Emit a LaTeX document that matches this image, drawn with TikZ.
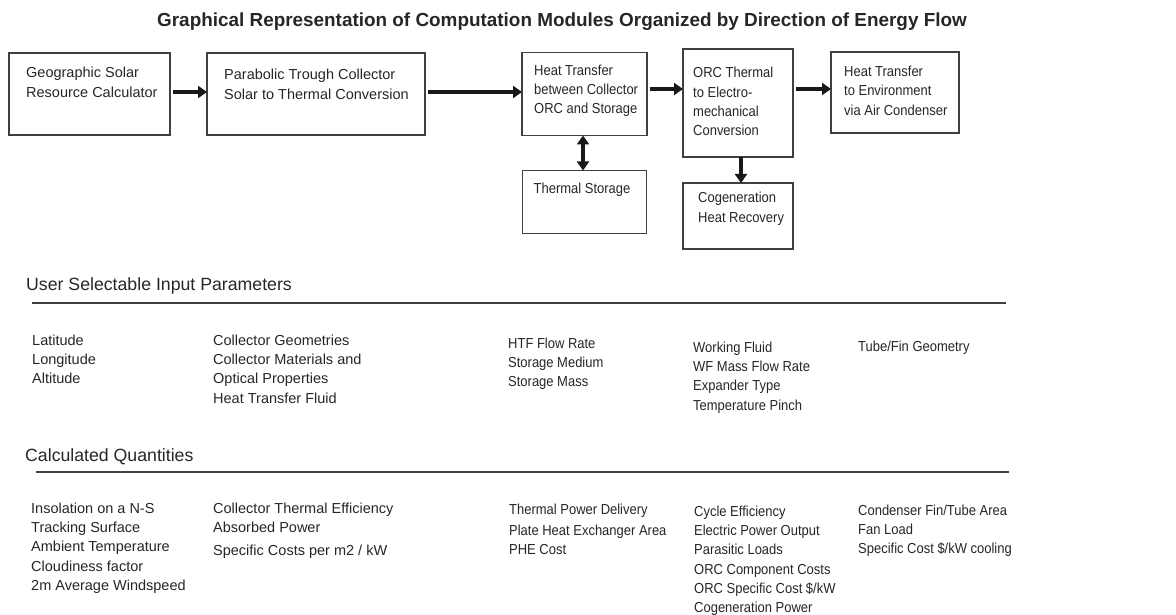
\documentclass[tikz,border=0pt]{standalone}
\usepackage{fontspec}
\setmainfont{Liberation Sans}
\newfontfamily\narrowsans[FakeStretch=0.895]{Liberation Sans}
\usetikzlibrary{positioning,arrows.meta}

\begin{document}
\begin{tikzpicture}[
x=1pt, y=-1pt,
modbox/.style={rectangle, draw=black!75, line width=1.6pt, outer sep=0pt, inner sep=0pt},
boxtext/.style={align=left, inner sep=0pt, text=black!85, font=\fontsize{14.5}{19.3}\selectfont},
narrowtext/.style={boxtext, font=\narrowsans\fontsize{14.5}{19.3}\selectfont},
listtext/.style={boxtext, anchor=north west},
narrowlist/.style={narrowtext, anchor=north west},
heading/.style={anchor=base west, inner sep=0pt, text=black!85, font=\fontsize{17.7}{21}\selectfont},
flow/.style={line width=3.5pt, black!90, shorten <=3pt, -{Triangle[length=9pt,width=12pt]}},
twoway/.style={line width=3.5pt, black!90, {Triangle[length=9pt,width=12pt]}-{Triangle[length=9pt,width=12pt]}},
rule/.style={line width=2pt, black!75},
]
\useasboundingbox (0,0) rectangle (1176,615);

%Title
\node[anchor=base, inner sep=0pt, text=black!85, font=\bfseries\fontsize{18.9}{22}\selectfont] (title) at (562,27)
  {Graphical Representation of Computation Modules Organized by Direction of Energy Flow};

%Modules
\node[modbox, minimum width=161pt, minimum height=82pt]  (geo)   at (89.5,94) {};
\node[modbox, minimum width=218pt, minimum height=82pt]  (ptc)   [right=37pt of geo] {};
\node[modbox, minimum width=125pt, minimum height=83pt]  (htx)   [right=97pt of ptc] {};
\node[modbox, minimum width=124pt, minimum height=63pt]  (tes)   [below=35pt of htx] {};
\node[modbox, minimum width=110pt, minimum height=108pt] (orc)   [right=36pt of htx, yshift=-9pt] {};
\node[modbox, minimum width=110pt, minimum height=66pt]  (cogen) [below=26pt of orc] {};
\node[modbox, minimum width=128pt, minimum height=81pt]  (env)   [right=38pt of orc, yshift=10.5pt] {};

\node[boxtext]    (geo-t)   [below right=14pt and 17pt of geo.north west] {Geographic Solar\\Resource Calculator};
\node[boxtext]    (ptc-t)   [below right=16pt and 17pt of ptc.north west] {Parabolic Trough Collector\\Solar to Thermal Conversion};
\node[narrowtext] (htx-t)   [below right=12pt and 12pt of htx.north west] {Heat Transfer\\between Collector\\ORC and Storage};
\node[narrowtext] (tes-t)   [below right=12pt and 11pt of tes.north west] {Thermal Storage};
\node[narrowtext] (orc-t)   [below right=18pt and 10pt of orc.north west] {ORC Thermal\\to Electro-\\mechanical\\Conversion};
\node[narrowtext] (cogen-t) [below right=9pt and 15pt of cogen.north west] {Cogeneration\\Heat Recovery};
\node[narrowtext] (env-t)   [below right=14pt and 13pt of env.north west] {Heat Transfer\\to Environment\\via Air Condenser};

%Energy flow
\draw[flow] ([yshift=2pt]geo.east) -- ([yshift=2pt]ptc.west);
\draw[flow] ([yshift=2pt]ptc.east) -- ([yshift=2pt]ptc.east -| htx.west);
\draw[flow] ([yshift=5pt]htx.east) -- ([yshift=5pt]htx.east -| orc.west);
\draw[flow] ([yshift=3.5pt]env.west -| orc.east) -- ([yshift=3.5pt]env.west);
\draw[twoway] ([xshift=-1.5pt]htx.south) -- ([xshift=-1.5pt]htx.south |- tes.north);
\draw[flow, shorten <=0pt] ([xshift=3pt]orc.south) -- ([xshift=3pt]orc.south |- cogen.north);

%Inputs
\node[heading] (inhead) at (26,290) {User Selectable Input Parameters};
\draw[rule] (32,303) -- (1006,303);
\node[listtext]   (in-geo)  at (32,334.5)  {Latitude\\Longitude\\Altitude};
\node[listtext]   (in-ptc)  at (213,334.5) {Collector Geometries\\Collector Materials and\\Optical Properties\\Heat Transfer Fluid};
\node[narrowlist] (in-htx)  at (508,337.5) {HTF Flow Rate\\Storage Medium\\Storage Mass};
\node[narrowlist] (in-orc)  at (693,341.5) {Working Fluid\\WF Mass Flow Rate\\Expander Type\\Temperature Pinch};
\node[narrowlist] (in-env)  at (858,340.5) {Tube/Fin Geometry};

%Outputs
\node[heading] (outhead) at (25,461) {Calculated Quantities};
\draw[rule] (36,472) -- (1009,472);
\node[listtext]   (out-geo) at (31,502.5)  {Insolation on a N-S\\Tracking Surface\\Ambient Temperature\\Cloudiness factor\\2m Average Windspeed};
\node[listtext]   (out-ptc) at (213,502.5) {Collector Thermal Efficiency\\Absorbed Power\\[4pt]Specific Costs per m2 / kW};
\node[narrowlist] (out-htx) at (509,503.5) {Thermal Power Delivery\\[2pt]Plate Heat Exchanger Area\\PHE Cost};
\node[narrowlist] (out-orc) at (694,505.5) {Cycle Efficiency\\Electric Power Output\\Parasitic Loads\\ORC Component Costs\\ORC Specific Cost \$/kW\\Cogeneration Power};
\node[narrowlist] (out-env) at (858,504.5) {Condenser Fin/Tube Area\\Fan Load\\Specific Cost \$/kW cooling};
\end{tikzpicture}
\end{document}
